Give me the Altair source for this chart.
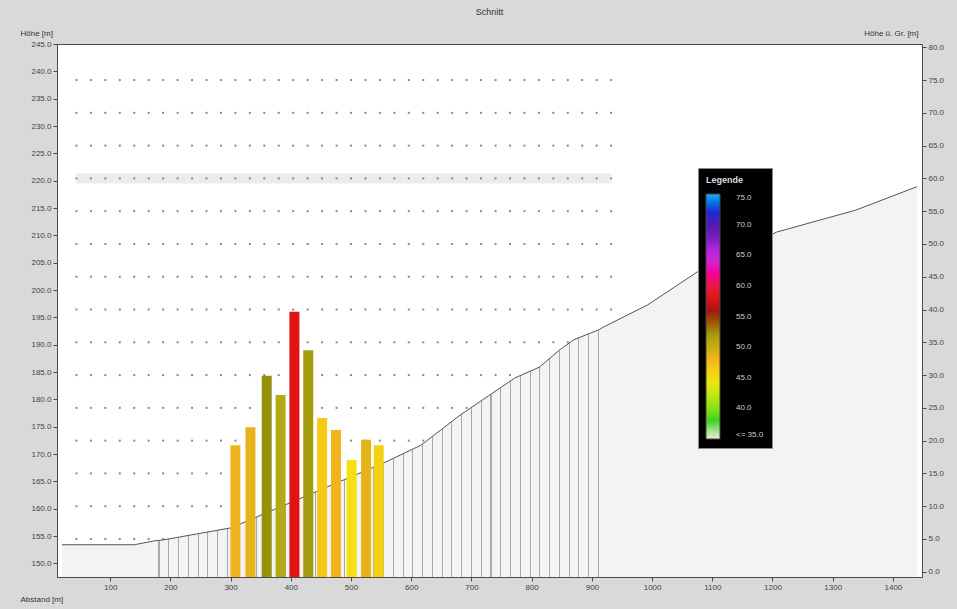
import altair as alt
import pandas as pd

# Geländeprofil entlang des Schnitts: Abstand [m], Geländehöhe [m]
terrain_x = [20, 140, 173, 189, 255, 301, 555, 616, 681, 772, 813, 846, 870, 911, 919, 993, 1075, 1207, 1338, 1440]
terrain_z = [153.4, 153.4, 154.1, 154.3, 155.6, 156.5, 168.4, 171.6, 177.1, 183.9, 185.9, 189.0, 190.9, 192.7, 193.2, 197.3, 203.3, 210.6, 214.6, 218.9]

# Gebäude im Schnitt: Position, Oberkante [m], Fassadenpegel [dB]
bldg_x = [308, 333, 360, 383, 406, 429, 452, 475, 501, 525, 546]
bldg_top = [171.6, 174.9, 184.3, 180.8, 196.0, 189.0, 176.6, 174.4, 168.9, 172.6, 171.6]
bldg_level = [48.0, 48.5, 53.0, 51.0, 58.0, 52.0, 46.5, 48.0, 45.0, 48.5, 46.0]

# Immissionsraster: Spalten [m] und Zeilen (Höhe über Grund, rechte Achse)
grid_cols = [44, 68, 92, 116, 140, 164, 188, 212, 236, 260, 284, 308, 332, 356, 380, 404, 428,
             452, 476, 500, 524, 548, 572, 596, 620, 644, 668, 692, 716, 740, 764, 788, 812, 836,
             860, 884, 908, 932]
grid_rows = [5, 10, 15, 20, 25, 30, 35, 40, 45, 50, 55, 60, 65, 70, 75]
active_row = 60

# Farbskala der Legende [dB]
level_stops = [35, 38, 41, 44.5, 48, 51, 53, 55, 58, 60.5, 63, 66.5, 69, 72, 75]
level_colors = ["#e4eedc", "#3cd21e", "#a6e61e", "#f5e614", "#f2b41e", "#b4aa14", "#96900f",
                "#8c1414", "#e01414", "#f01e50", "#e628c8", "#a028e6", "#5a14a0", "#1e28d2", "#28aae6"]
legend_values = [35, 40, 45, 50, 55, 60, 65, 70, 75]

x_ticks = [100, 200, 300, 400, 500, 600, 700, 800, 900, 1000, 1100, 1200, 1300, 1400]
z_ticks = [150 + 5 * i for i in range(20)]
h_ticks = [5 * i for i in range(17)]

X_DOM = [20, 1440]
Z_DOM = [147.5, 245]
H_DOM = [-0.8, 80.5]
Z_BASE = Z_DOM[0]

terrain = pd.DataFrame({"x": terrain_x, "z": terrain_z})
bldg = pd.DataFrame({"x": bldg_x, "top": bldg_top, "level": bldg_level})
grid = pd.DataFrame([{"x": c, "h": r} for r in grid_rows for c in grid_cols])
band = pd.DataFrame({"x": [grid_cols[0]], "x2": [grid_cols[-1]], "h": [active_row]})

FONT = "Liberation Sans"

x_enc = alt.X("x:Q", scale=alt.Scale(domain=X_DOM, nice=False, zero=False),
              axis=alt.Axis(values=x_ticks, format="d", title="Abstand [m]",
                            titleX=-37, titleY=22, titleAlign="left", titleBaseline="middle",
                            titleFontWeight="normal", titleFontSize=8, titleColor="#333"))

z_scale = alt.Scale(domain=Z_DOM, nice=False, zero=False)
z_axis = alt.Axis(orient="left", values=z_ticks, format=".1f", title="Höhe [m]",
                  titleAngle=0, titleX=-37, titleY=-7, titleAlign="left", titleBaseline="bottom",
                  titleFontWeight="normal", titleFontSize=8, titleColor="#333")

h_scale = alt.Scale(domain=H_DOM, nice=False, zero=False)
h_axis = alt.Axis(orient="right", values=h_ticks, format=".1f", title="Höhe ü. Gr. [m]",
                  titleAngle=0, titleX=-4, titleY=-7, titleAlign="right", titleBaseline="bottom",
                  titleFontWeight="normal", titleFontSize=8, titleColor="#333")

# Rasterpunkte (rechte Achse)
band_layer = alt.Chart(band).mark_rule(color="#ececec", strokeWidth=10).encode(
    x=alt.X("x:Q", scale=alt.Scale(domain=X_DOM, nice=False, zero=False)),
    x2="x2:Q",
    y=alt.Y("h:Q", scale=h_scale, axis=h_axis),
)
dots = alt.Chart(grid).mark_point(shape="square", filled=True, size=4, color="#8a8a8a", opacity=1).encode(
    x=alt.X("x:Q", scale=alt.Scale(domain=X_DOM, nice=False, zero=False)),
    y=alt.Y("h:Q", scale=h_scale, axis=h_axis),
)
grid_group = alt.layer(band_layer, dots)

# Gelände: Fläche, schraffierter Schnittbereich und Profillinie
ground = alt.Chart(terrain).mark_area(color="#f3f3f3", opacity=1, clip=True).encode(
    x=x_enc,
    y=alt.Y("z:Q", scale=z_scale, axis=z_axis),
    y2=alt.datum(Z_BASE),
)

n_stripes = 46
light, dark = "#f3f3f3", "#a9a9a9"
stops = [alt.GradientStop(color=light, offset=0)]
for i in range(n_stripes):
    c = (i + 0.5) / n_stripes
    stops += [alt.GradientStop(color=light, offset=c - 0.0012),
              alt.GradientStop(color=dark, offset=c - 0.0012),
              alt.GradientStop(color=dark, offset=c + 0.0012),
              alt.GradientStop(color=light, offset=c + 0.0012)]
stops.append(alt.GradientStop(color=light, offset=1))

hatch = alt.Chart(terrain).transform_filter(
    (alt.datum.x >= 173) & (alt.datum.x <= 919)
).mark_area(
    fill=alt.Gradient(gradient="linear", stops=stops, x1=0, x2=1, y1=0, y2=0),
    opacity=1, clip=True,
).encode(
    x="x:Q",
    y=alt.Y("z:Q", scale=z_scale, axis=z_axis),
    y2=alt.datum(Z_BASE),
)

profile = alt.Chart(terrain).mark_line(color="#555555", strokeWidth=1, clip=True).encode(
    x="x:Q",
    y=alt.Y("z:Q", scale=z_scale, axis=z_axis),
)

buildings = alt.Chart(bldg).mark_bar(size=10, clip=True).encode(
    x="x:Q",
    y=alt.Y("top:Q", scale=z_scale, axis=z_axis),
    y2=alt.datum(Z_BASE),
    color=alt.Color(
        "level:Q",
        scale=alt.Scale(domain=level_stops, range=level_colors, clamp=True),
        legend=alt.Legend(
            title="Legende", orient="none", legendX=641, legendY=124,
            direction="vertical", gradientLength=245, gradientThickness=14,
            values=legend_values, format=".1f",
            labelExpr="datum.value <= 35 ? '<= ' + datum.label : datum.label",
            fillColor="black", strokeColor="#8a8a8a", padding=8,
            titleColor="#dddddd", titleFontSize=9, titleFont=FONT, titlePadding=9,
            labelColor="#cfcfcf", labelFontSize=8, labelFont=FONT, labelOffset=16,
            gradientStrokeColor="#444444", gradientStrokeWidth=1,
        ),
    ),
)

section = alt.layer(ground, hatch, profile, buildings)

chart = alt.layer(grid_group, section).resolve_scale(y="independent").properties(
    width=865,
    height=533,
    title=alt.TitleParams("Schnitt", fontSize=9, font=FONT, fontWeight="normal",
                          color="#333333", anchor="middle", offset=12),
    autosize=alt.AutoSizeParams(type="none"),
    padding={"left": 57, "top": 44, "right": 35, "bottom": 32},
    background="#d9d9d9",
).configure_view(
    fill="white", stroke="#4a4a4a", strokeWidth=1,
).configure_axis(
    labelFont=FONT, titleFont=FONT, labelFontSize=8, labelColor="#444444",
    domainColor="#4a4a4a", tickColor="#4a4a4a", tickSize=4, grid=False,
)

chart.save("out.html", embed_options={"renderer": "svg", "actions": False})
